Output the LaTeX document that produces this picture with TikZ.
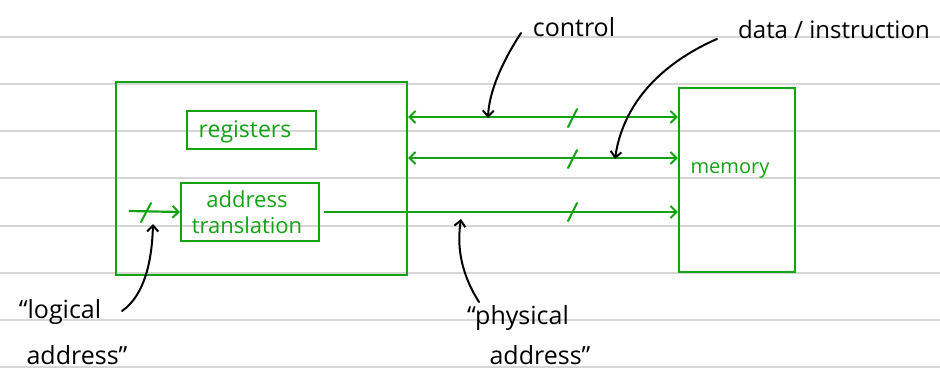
\documentclass[tikz,border=0pt]{standalone}
\usepackage{fontspec}
\setmainfont{Open Sans}
\usetikzlibrary{arrows.meta}
\definecolor{pen}{RGB}{18,162,18}
\definecolor{rulegray}{RGB}{214,214,214}
\begin{document}
\begin{tikzpicture}[x=1pt,y=-1pt,
  box/.style={draw=pen, line width=2.2pt, inner sep=0pt},
  gtext/.style={text=pen, inner sep=0pt, font=\fontsize{23}{26}\selectfont},
  ktext/.style={text=black, inner sep=0pt, font=\fontsize{25}{28}\selectfont},
  bus/.style={draw=pen, line width=2.2pt},
  gtip/.style={-{Straight Barb[length=6pt,width=12pt,line width=2pt]}},
  gtips/.style={{Straight Barb[length=6pt,width=12pt,line width=2pt]}-{Straight Barb[length=6pt,width=12pt,line width=2pt]}},
  ptr/.style={draw=black, line width=2pt, line cap=round, -{Straight Barb[length=6pt,width=11pt,line width=2pt]}},
  tick/.style={draw=pen, line width=2pt, line cap=round},
  ruled/.style={draw=rulegray, line width=1.6pt}]
\useasboundingbox (0,0) rectangle (940,373);
% ruled paper
\foreach \yy in {37,84,131,178,226,273,320,367} {
  \draw[ruled] (0,\yy) -- (940,\yy);
}
% boxes
\node[box, minimum width=291pt, minimum height=193pt] (cpu) at (261.5,178.5) {};
\node[box, minimum width=129pt, minimum height=38pt] (reg) at (251.5,130) {};
\node[gtext] at (245,132) {registers};
\node[box, minimum width=138pt, minimum height=58pt] (at) at (250,212) {};
\node[gtext, align=center, font=\fontsize{22}{26}\selectfont] at (247,212) {address\\translation};
\node[box, minimum width=116pt, minimum height=184pt] (mem) at (737,180) {};
\node[gtext, font=\fontsize{20}{24}\selectfont] (memtxt) at (730,170) {memory};
% buses
\draw[bus, gtips] (cpu.east |- 0,117) -- (mem.west |- 0,117);
\draw[bus, gtips] (cpu.east |- 0,158) -- (mem.west |- 0,158);
\draw[bus, gtip] (at.east) ++(4,0) -- (mem.west |- at.east);
\coordinate (in) at (129,211);
\draw[bus, gtip] (in) -- (at.west);
% slashes
\draw[tick] (568,127) -- (577,109);
\draw[tick] (568,168) -- (577,150);
\draw[tick] (568,221) -- (577,203);
\draw[tick] (141,222) -- (151,203);
% labels
\node[ktext] (ctl) at (574,27) {control};
\node[ktext, font=\fontsize{24}{28}\selectfont] (din) at (834,29) {data / instruction};
\node[ktext] (lg1) at (60,312) {“logical};
\node[ktext] (lg2) at (77,355) {address”};
\node[ktext] (ph1) at (518,318) {“physical};
\node[ktext] (ph2) at (540,355) {address”};
% pointer arrows
\coordinate (ctlS) at (521,33);
\coordinate (ctlT) at (488,118);
\draw[ptr] (ctlS) .. controls (502,62) and (489,92) .. (ctlT);
\coordinate (dinS) at (717,39);
\coordinate (dinT) at (615,159);
\draw[ptr] (dinS) .. controls (680,55) and (625,90) .. (dinT);
\coordinate (lgS) at (122,311);
\coordinate (lgT) at (153,224);
\draw[ptr] (lgS) .. controls (145,295) and (152,260) .. (lgT);
\coordinate (phS) at (479,302);
\coordinate (phT) at (461,219);
\draw[ptr] (phS) .. controls (460,272) and (457,245) .. (phT);
\end{tikzpicture}
\end{document}
